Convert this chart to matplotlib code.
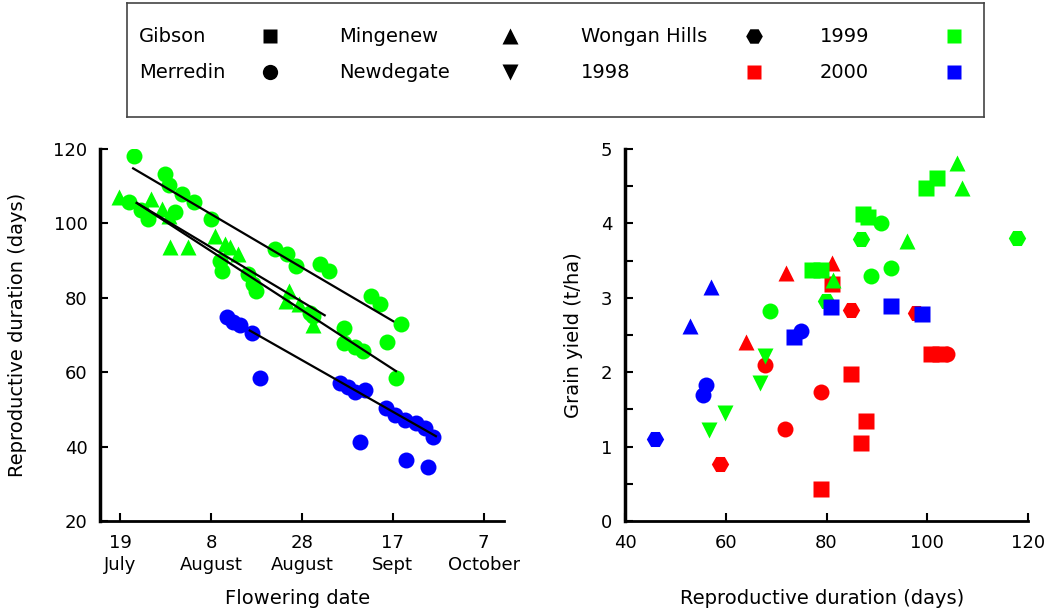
import numpy as np
import matplotlib.pyplot as plt

plt.rcParams['font.family'] = ['DejaVu Sans']

YEAR_COLOURS = {"1998": "#ff0000", "1999": "#00ff00", "2000": "#0000ff"}
SITE_MARKERS = {"Gibson": "s", "Merredin": "o", "Mingenew": "^", "Newdegate": "v", "Wongan Hills": "H"}
MARKER_SIZES = {"s": 11, "o": 11.5, "^": 12, "v": 12, "H": 12.5}

# ---- left panel: flowering date (days after 19 July) vs reproductive duration (days)
flower_1999_round = [3.0, 9.9, 10.6, 13.6, 16.3, 19.9, 34.1, 36.8, 38.7, 44.0, 45.9, 55.3, 57.2,
                     61.8, 58.8, 60.7, 1.9, 4.5, 6.1, 22.0, 22.4, 28.1, 29.2, 29.9, 42.5, 49.3,
                     49.3, 51.6, 53.5, 12.0, 41.7]
repdur_1999_round = [118.2, 113.4, 110.3, 108.0, 105.7, 101.2, 93.1, 91.8, 88.6, 89.0, 87.2, 80.5, 78.2,
                     73.0, 68.1, 58.4, 105.7, 103.5, 101.2, 89.9, 87.2, 86.3, 83.6, 81.8, 75.1, 71.9,
                     67.8, 66.9, 65.6, 103.1, 75.8]
flower_1999_tri = [-0.4, 6.8, 9.1, 10.6, 11.0, 14.8, 20.8, 23.1, 25.8, 24.1, 37.1, 36.4, 39.4, 42.5]
repdur_1999_tri = [107.1, 106.6, 103.9, 102.1, 93.6, 93.6, 96.7, 94.5, 91.8, 93.7, 81.8, 79.1, 78.2, 72.8]
flower_2000 = [23.4, 24.8, 26.3, 28.9, 30.7, 48.3, 50.2, 51.7, 53.9, 52.8, 58.6, 60.5, 62.7,
               65.2, 67.1, 68.9, 63.0, 67.8]
repdur_2000 = [74.9, 73.6, 72.7, 70.5, 58.4, 57.0, 56.1, 54.8, 55.2, 41.3, 50.3, 48.5, 47.2,
               46.3, 44.9, 42.7, 36.4, 34.6]

# fitted regression lines (start / end)
fit_day_start = [2.8, 3.6, 3.6, 28.5]
fit_dur_start = [114.8, 105.5, 105.5, 71.2]
fit_day_end = [60.1, 60.7, 45.0, 69.5]
fit_dur_end = [73.7, 60.3, 75.3, 42.8]

date_ticks = [0, 20, 40, 60, 80]
date_labels = ["19\nJuly", "8\nAugust", "28\nAugust", "17\nSept", "7\nOctober"]

# ---- right panel: reproductive duration (days) vs grain yield (t/ha)
dur_1998 = [72.0, 81.0, 81.0, 64.0, 67.8, 84.8, 97.7, 100.8, 102.5, 104.0, 84.8, 78.9, 87.8,
            86.8, 71.7, 58.8, 78.9]
yld_1998 = [3.33, 3.47, 3.18, 2.40, 2.10, 2.84, 2.80, 2.24, 2.25, 2.25, 1.97, 1.73, 1.35,
            1.05, 1.23, 0.76, 0.43]
site_1998 = ["Mingenew", "Mingenew", "Gibson", "Mingenew", "Merredin", "Wongan Hills",
             "Wongan Hills", "Gibson", "Gibson", "Merredin", "Gibson", "Merredin", "Gibson",
             "Gibson", "Merredin", "Wongan Hills", "Gibson"]

dur_1999 = [66.8, 59.8, 56.7, 67.8, 68.8, 79.9, 77.2, 79.0, 81.3, 88.8, 92.8, 86.8, 96.0,
            87.3, 88.3, 90.8, 99.7, 101.9, 105.9, 106.9, 117.8]
yld_1999 = [1.85, 1.45, 1.22, 2.22, 2.82, 2.96, 3.37, 3.37, 3.24, 3.29, 3.40, 3.79, 3.76,
            4.12, 4.08, 4.00, 4.48, 4.61, 4.81, 4.48, 3.80]
site_1999 = ["Newdegate", "Newdegate", "Newdegate", "Newdegate", "Merredin", "Wongan Hills",
             "Gibson", "Gibson", "Mingenew", "Merredin", "Merredin", "Wongan Hills", "Mingenew",
             "Gibson", "Gibson", "Merredin", "Gibson", "Gibson", "Mingenew", "Mingenew",
             "Wongan Hills"]

dur_2000 = [46.0, 53.0, 57.0, 56.0, 55.5, 73.5, 75.0, 80.8, 92.8, 99.0]
yld_2000 = [1.10, 2.62, 3.15, 1.83, 1.70, 2.47, 2.55, 2.88, 2.89, 2.78]
site_2000 = ["Wongan Hills", "Mingenew", "Mingenew", "Merredin", "Merredin", "Gibson",
             "Merredin", "Gibson", "Gibson", "Gibson"]

legend_labels = ["Gibson", "Merredin", "Mingenew", "Newdegate", "Wongan Hills", "1998", "1999", "2000"]

W, H = 1049, 609
fig = plt.figure(figsize=(W / 100, H / 100), dpi=100)


def fig_rect(x0, y0, x1, y1):
    return [x0 / W, 1 - y1 / H, (x1 - x0) / W, (y1 - y0) / H]


def style_axes(ax):
    for s in ["top", "right"]:
        ax.spines[s].set_visible(False)
    ax.spines["left"].set_linewidth(2.5)
    ax.spines["bottom"].set_linewidth(2.0)
    ax.tick_params(axis="both", which="both", direction="in", length=6, width=1.5,
                   labelsize=13, pad=9, colors="black")


# left panel
ax1 = fig.add_axes(fig_rect(100, 149, 504, 521))
ax1.plot(flower_1999_round, repdur_1999_round, "o", color=YEAR_COLOURS["1999"],
         ms=MARKER_SIZES["o"], mec="none")
ax1.plot(flower_1999_tri, repdur_1999_tri, "^", color=YEAR_COLOURS["1999"],
         ms=MARKER_SIZES["^"], mec="none")
ax1.plot(flower_2000, repdur_2000, "o", color=YEAR_COLOURS["2000"],
         ms=MARKER_SIZES["o"], mec="none")
for xs, ys, xe, ye in zip(fit_day_start, fit_dur_start, fit_day_end, fit_dur_end):
    ax1.plot([xs, xe], [ys, ye], color="black", lw=1.6, zorder=5)
ax1.set_xlim(-4.5, 84.5)
ax1.set_ylim(20, 120)
ax1.set_yticks([20, 40, 60, 80, 100, 120])
ax1.set_xticks(date_ticks)
ax1.set_xticklabels(date_labels, linespacing=1.3)
style_axes(ax1)
ax1.set_xlabel("Flowering date", fontsize=14)
ax1.set_ylabel("Reproductive duration (days)", fontsize=14)
ax1.xaxis.set_label_coords(0.49, -0.184)
ax1.yaxis.set_label_coords(-0.18, 0.5)

# right panel
ax2 = fig.add_axes(fig_rect(625, 149, 1028, 521))
for dur, yld, site, year in [(dur_1998, yld_1998, site_1998, "1998"),
                             (dur_1999, yld_1999, site_1999, "1999"),
                             (dur_2000, yld_2000, site_2000, "2000")]:
    for x, y, s in zip(dur, yld, site):
        mk = SITE_MARKERS[s]
        ax2.plot(x, y, mk, color=YEAR_COLOURS[year], ms=MARKER_SIZES[mk], mec="none")
ax2.set_xlim(40, 120)
ax2.set_ylim(0, 5)
ax2.set_xticks([40, 60, 80, 100, 120])
ax2.set_yticks([0, 1, 2, 3, 4, 5])
ax2.set_yticks(np.arange(0.5, 5, 1.0), minor=True)
style_axes(ax2)
ax2.set_xlabel("Reproductive duration (days)", fontsize=14)
ax2.set_ylabel("Grain yield (t/ha)", fontsize=14)
ax2.xaxis.set_label_coords(0.49, -0.184)
ax2.yaxis.set_label_coords(-0.105, 0.5)

# legend box
lg = fig.add_axes(fig_rect(127, 3, 984, 117))
lg.set_xlim(127, 984)
lg.set_ylim(117, 3)
lg.set_xticks([])
lg.set_yticks([])
for s in lg.spines.values():
    s.set_linestyle((0, (1, 1)))
    s.set_linewidth(1.2)
    s.set_color("#444444")
text_x = [139, 139, 339, 339, 581, 581, 820, 820]
mark_x = [270, 270, 510, 510, 754, 754, 954, 954]
row_y = [36, 72, 36, 72, 36, 72, 36, 72]
leg_markers = [SITE_MARKERS[n] for n in legend_labels[:5]] + ["s", "s", "s"]
leg_colours = ["black"] * 5 + [YEAR_COLOURS["1998"], YEAR_COLOURS["1999"], YEAR_COLOURS["2000"]]
for lab, tx, mx, ry, mk, c in zip(legend_labels, text_x, mark_x, row_y, leg_markers, leg_colours):
    lg.text(tx, ry, lab, fontsize=14, ha="left", va="center")
    lg.plot(mx, ry, mk, color=c, ms=MARKER_SIZES[mk] - 0.5, mec="none")

fig.savefig("out.png", dpi=100)
